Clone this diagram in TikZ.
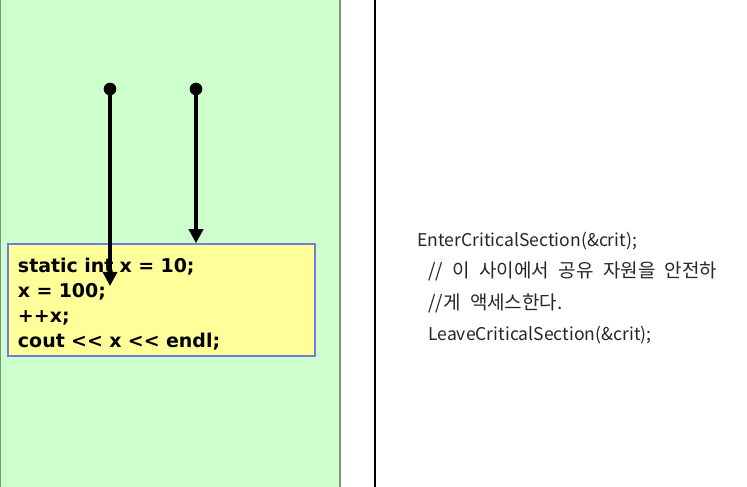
\documentclass[tikz,border=0pt]{standalone}
\usepackage{fontspec}
\setmainfont{Liberation Sans}
\newfontfamily\codefont{DejaVu Sans}
\newfontfamily\korfont{Noto Sans CJK KR}
\usetikzlibrary{positioning}
\usetikzlibrary{arrows.meta}

\definecolor{panelgreen}{RGB}{204,255,204}
\definecolor{paneledge}{RGB}{120,150,120}
\definecolor{codeyellow}{RGB}{255,255,153}
\definecolor{codeedge}{RGB}{120,120,220}

\newcommand{\kline}[1]{{\fontsize{13.5}{22.5}\selectfont\spaceskip=6.7pt #1}}

\tikzset{
 thread/.style={line width=2.3pt, -{Triangle[length=10pt,width=10pt]}},
 dot/.style={circle, fill=black, inner sep=0pt, minimum size=9pt}
}

\begin{document}
\begin{tikzpicture}[x=0.025cm, y=-0.025cm]
 \useasboundingbox (0,0) rectangle (747,486);
 \fill[white] (0,0) rectangle (747,486);
 % left panel
 \filldraw[fill=panelgreen, draw=paneledge, line width=1.2pt] (0.5,-2) rectangle (340,490);
 \node[rectangle,
 draw=codeedge,
 line width=1pt,
 fill=codeyellow,
 minimum width = 7.675cm,
 minimum height = 2.8cm,
 inner xsep = 7.1pt,
 text width = 7.175cm,
 align=left,
 font=\codefont\bfseries\fontsize{13.5}{17.6}\selectfont] (codebox) at (161.5,300)
 {\rule{0pt}{16pt}static int x = 10;\\
 x = 100;\\
 ++x;\\
 cout {<}{<} x {<}{<} endl;};

 \node[dot] (t1) at (110,89) {};
 \node[dot] (t2) at (196,89) {};
 \coordinate (stop1) at (110,286);

 \draw[thread] (t1.center) -- (stop1);
 \draw[thread] (t2.center) -- (t2 |- codebox.north);

 % divider
 \draw[line width=1.5pt] (375,-2) -- (375,490);

 \node[anchor=west, align=left, inner sep=0pt, text=black!85,
 font=\korfont\fontsize{12.5}{22.5}\selectfont] (crit) at (417,288)
 {EnterCriticalSection(\&crit);\\
 \hspace*{7.8pt}\kline{// 이 사이에서 공유 자원을 안전하}\\
 \hspace*{7.8pt}\kline{//게 액세스한다.}\\
 \hspace*{7.8pt}LeaveCriticalSection(\&crit);};
\end{tikzpicture}
\end{document}
